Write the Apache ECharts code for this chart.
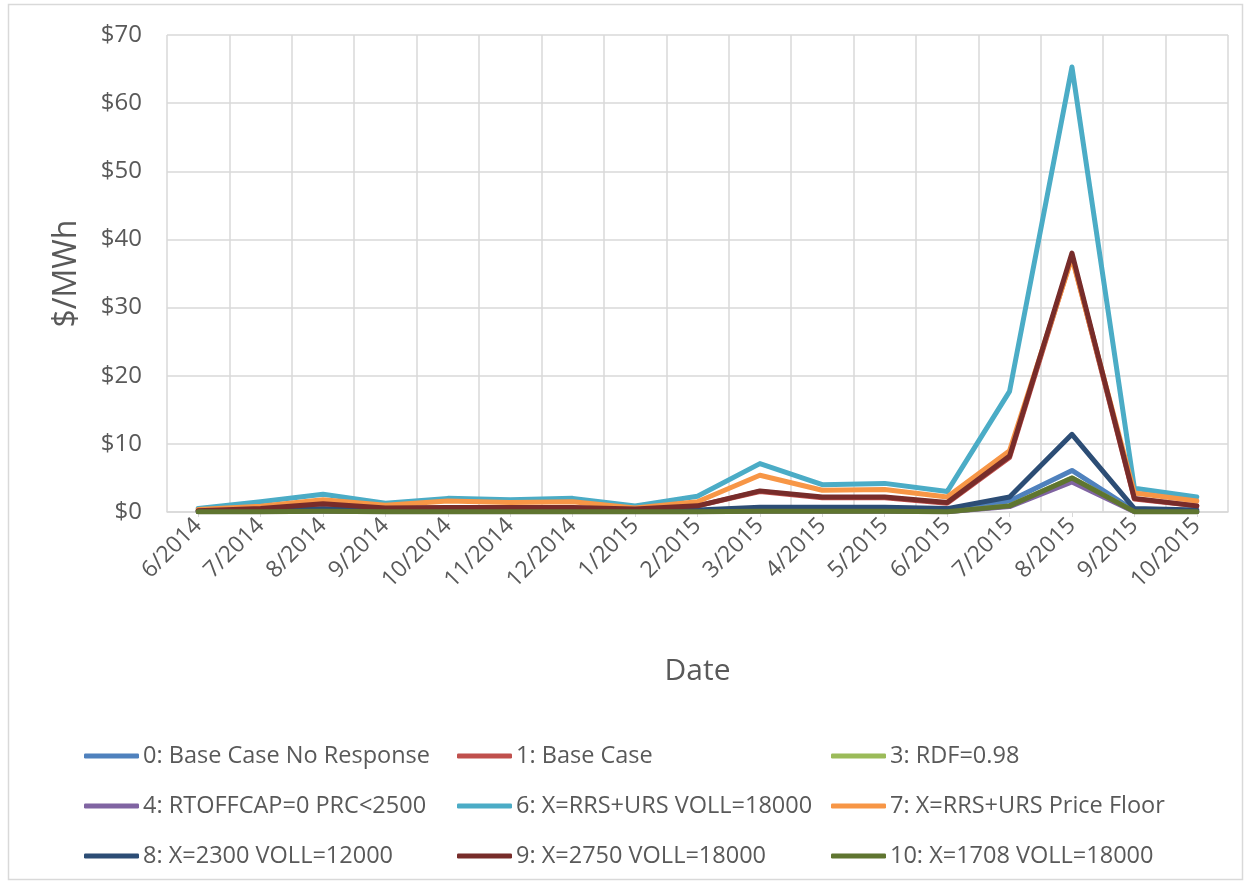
<!DOCTYPE html>
<html>
<head>
<meta charset="utf-8">
<script src="https://cdn.jsdelivr.net/npm/echarts@6/dist/echarts.min.js"></script>
<style>
html,body{margin:0;padding:0;background:#fff;}
#chart{width:1253px;height:886px;}
</style>
</head>
<body>
<div id="chart"></div>
<script>
const categories = ['6/2014','7/2014','8/2014','9/2014','10/2014','11/2014','12/2014','1/2015','2/2015','3/2015','4/2015','5/2015','6/2015','7/2015','8/2015','9/2015','10/2015'];
const yTicks = [0,10,20,30,40,50,60,70];

const s0  = [0.1,0.2,0.5,0.2,0.3,0.3,0.3,0.1,0.2,0.4,0.4,0.4,0.2,1.6,6.1,0.2,0.1];
const s1  = [0.2,0.5,1.2,0.6,0.6,0.6,0.6,0.4,0.9,3.0,2.1,2.1,1.3,8.0,37.6,1.9,0.9];
const s3  = [0.05,0.05,0.1,0.05,0.05,0.05,0.05,0.05,0.05,0.1,0.1,0.1,0.05,0.9,5.0,0.05,0.05];
const s4  = [0.05,0.05,0.1,0.05,0.05,0.05,0.05,0.05,0.05,0.1,0.1,0.1,0.05,0.8,4.4,0.05,0.05];
const s6  = [0.5,1.5,2.6,1.3,2.0,1.8,2.0,0.9,2.3,7.1,4.0,4.2,3.0,17.7,65.3,3.5,2.2];
const s7  = [0.35,0.85,1.8,1.0,1.6,1.4,1.5,0.6,1.5,5.4,3.2,3.3,2.2,9.0,37.3,2.8,1.6];
const s8  = [0.1,0.2,0.45,0.2,0.2,0.2,0.2,0.1,0.3,0.7,0.7,0.7,0.5,2.2,11.4,0.5,0.3];
const s9  = [0.2,0.5,1.2,0.6,0.65,0.65,0.65,0.45,0.9,3.1,2.2,2.2,1.4,8.2,38.0,2.0,0.9];
const s10 = [0.05,0.05,0.1,0.05,0.05,0.05,0.05,0.05,0.05,0.1,0.1,0.1,0.05,0.9,5.0,0.05,0.05];

const seriesNames = ['0: Base Case No Response','1: Base Case','3: RDF=0.98','4: RTOFFCAP=0 PRC<2500','6: X=RRS+URS VOLL=18000','7: X=RRS+URS Price Floor','8: X=2300 VOLL=12000','9: X=2750 VOLL=18000','10: X=1708 VOLL=18000'];
const seriesData = [s0,s1,s3,s4,s6,s7,s8,s9,s10];
const colors = ['#4F81BD','#C0504D','#9BBB59','#8064A2','#4BACC6','#F79646','#2C4D75','#772C2A','#5F7530'];

const FONT = 'Open Sans';
const TXT = '#595959';

const chart = echarts.init(document.getElementById('chart'));

function legendCol(left, names){
  return {
    orient: 'vertical', left: left, top: 739,
    itemWidth: 55, itemHeight: 5, itemGap: 26,
    icon: 'roundRect',
    data: names,
    textStyle: {fontFamily: FONT, fontSize: 23.5, color: TXT, lineHeight: 24, padding: [0,0,0,-1]}
  };
}

chart.setOption({
  animation: false,
  color: colors,
  textStyle: {fontFamily: FONT},
  graphic: [{type:'rect', shape:{x:8.5,y:4.5,width:1234,height:875}, style:{fill:'none', stroke:'#d9d9d9', lineWidth:1.5}, silent:true}],
  grid: {left: 167, right: 25, top: 35, bottom: 374, containLabel: false},
  legend: [
    legendCol(79, [seriesNames[0], seriesNames[3], seriesNames[6]]),
    legendCol(452, [seriesNames[1], seriesNames[4], seriesNames[7]]),
    legendCol(826, [seriesNames[2], seriesNames[5], seriesNames[8]])
  ],
  xAxis: {
    type: 'category', data: categories, boundaryGap: true,
    name: 'Date', nameLocation: 'middle', nameGap: 144,
    nameTextStyle: {fontFamily: FONT, fontSize: 30, color: TXT},
    axisLine: {show: true, lineStyle: {color: '#d9d9d9', width: 1.5}},
    axisTick: {show: true, alignWithLabel: true, length: 5, lineStyle: {color: '#d9d9d9'}},
    axisLabel: {rotate: 45, fontFamily: FONT, fontSize: 23, color: TXT, margin: 10, interval: 0},
    splitLine: {show: true, lineStyle: {color: '#d9d9d9', width: 1.5}}
  },
  yAxis: {
    type: 'value', min: 0, max: 70, interval: 10,
    name: '$/MWh', nameLocation: 'middle', nameGap: 84,
    nameTextStyle: {fontFamily: FONT, fontSize: 32, color: TXT},
    axisLine: {show: false}, axisTick: {show: false},
    axisLabel: {fontFamily: FONT, fontSize: 24, color: TXT, margin: 25,
      formatter: v => yTicks.includes(v) ? '$' + v : ''},
    splitLine: {show: true, lineStyle: {color: '#d9d9d9', width: 1.5}}
  },
  series: seriesNames.map((n, i) => ({
    name: n, type: 'line', data: seriesData[i],
    symbol: 'none', smooth: false,
    lineStyle: {width: 5, color: colors[i], cap: 'round', join: 'round'},
    itemStyle: {color: colors[i]}
  }))
});
</script>
</body>
</html>
